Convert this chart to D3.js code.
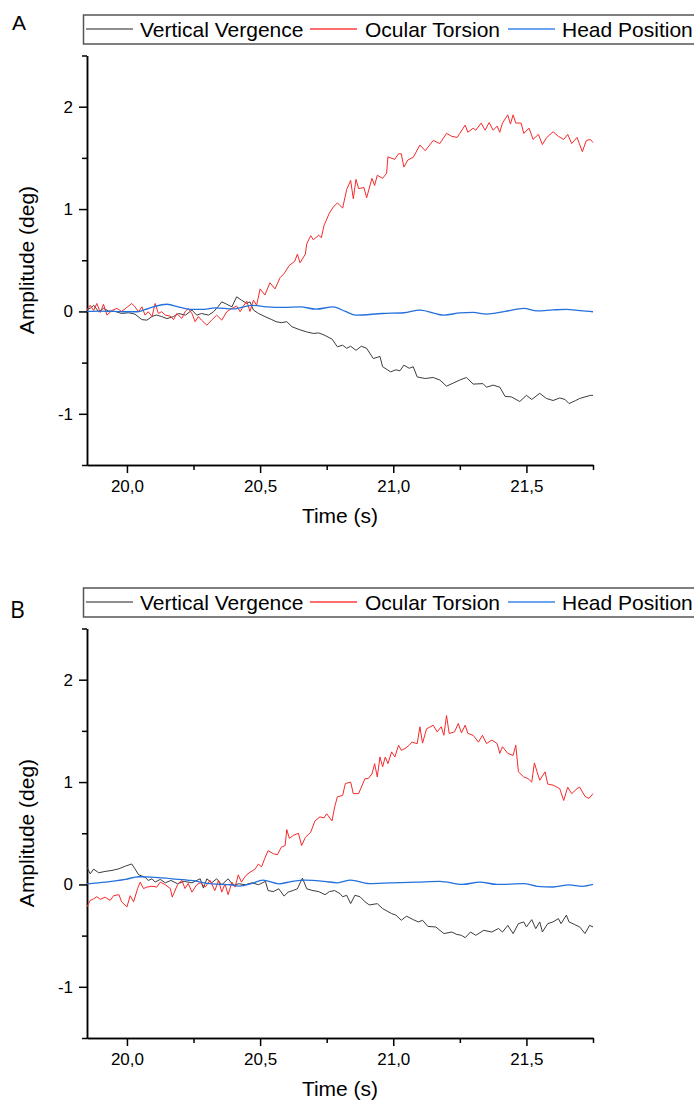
<!DOCTYPE html>
<meta charset="utf-8">
<html>

<head>
  <script src="https://cdnjs.cloudflare.com/ajax/libs/d3/7.8.5/d3.min.js"></script>

  <style>
    body {
      margin: 0;
      background-color: white;
    }

    svg text {
      font-family: 'Liberation Sans', Arial, sans-serif;
      fill: black;
    }

    .axis path,
    .axis line {
      stroke: black;
      stroke-width: 1.5;
    }

    .axis text {
      font-size: 17px;
    }

    .title {
      font-size: 21px;
    }

    .legend text {
      font-size: 21px;
    }
  </style>
</head>

<body>
  <script>
    //Tick values
    var xMajor = [20.0, 20.5, 21.0, 21.5];
    var xMinor = [20.25, 20.75, 21.25, 21.75];
    var yMajor = [-1, 0, 1, 2];
    var yMinor = [-1.5, -0.5, 0.5, 1.5, 2.5];
    var seriesNames = ['Vertical Vergence', 'Ocular Torsion', 'Head Position'];
    var panelLabels = ['A', 'B'];

    //Panel A, [time (s), amplitude (deg)]
    var vergenceA = [
      [19.85, 0.02], [19.862, 0.03], [19.875, 0.06], [19.894, -0.003], [19.912, 0.03], [19.93, 0.005],
      [19.956, 0.0], [19.98, -0.02], [20.006, -0.013], [20.03, -0.026], [20.056, -0.08], [20.075, -0.085],
      [20.094, -0.05], [20.11, -0.035], [20.13, -0.05], [20.15, -0.07], [20.175, -0.05], [20.194, -0.02],
      [20.22, -0.036], [20.244, 0.013], [20.262, -0.036], [20.28, -0.02], [20.306, -0.036], [20.325, -0.003],
      [20.344, 0.052], [20.356, 0.094], [20.375, 0.07], [20.394, 0.045], [20.412, 0.143], [20.43, 0.11],
      [20.45, 0.078], [20.462, 0.094], [20.475, 0.013], [20.494, -0.02], [20.518, -0.05], [20.544, -0.08],
      [20.56, -0.1], [20.58, -0.11], [20.6, -0.1], [20.62, -0.15], [20.65, -0.18], [20.675, -0.2],
      [20.7, -0.215], [20.72, -0.21], [20.74, -0.23], [20.77, -0.27], [20.79, -0.345], [20.81, -0.33],
      [20.825, -0.36], [20.84, -0.34], [20.86, -0.38], [20.88, -0.34], [20.9, -0.36], [20.925, -0.46],
      [20.95, -0.44], [20.96, -0.54], [20.99, -0.59], [21.01, -0.57], [21.025, -0.58], [21.04, -0.525],
      [21.06, -0.555], [21.075, -0.54], [21.09, -0.64], [21.12, -0.655], [21.15, -0.645], [21.175, -0.67],
      [21.2, -0.73], [21.225, -0.7], [21.25, -0.67], [21.275, -0.645], [21.3, -0.71], [21.337, -0.705],
      [21.35, -0.74], [21.375, -0.72], [21.4, -0.74], [21.42, -0.83], [21.444, -0.835], [21.475, -0.88],
      [21.5, -0.82], [21.52, -0.86], [21.55, -0.8], [21.575, -0.85], [21.6, -0.87], [21.625, -0.845],
      [21.645, -0.86], [21.66, -0.9], [21.685, -0.87], [21.7, -0.85], [21.74, -0.82], [21.75, -0.82]
    ];

    var torsionA = [
      [19.85, 0.013], [19.862, 0.06], [19.875, 0.01], [19.887, 0.078], [19.9, -0.01], [19.912, 0.07],
      [19.925, -0.036], [19.944, 0.01], [19.962, 0.03], [19.98, 0.0], [20.0, 0.04], [20.018, 0.078],
      [20.03, 0.045], [20.044, -0.003], [20.056, 0.045], [20.068, -0.036], [20.08, -0.003], [20.094, -0.05],
      [20.106, 0.078], [20.118, -0.02], [20.13, -0.003], [20.144, -0.036], [20.162, -0.045], [20.175, -0.08],
      [20.187, -0.02], [20.206, -0.068], [20.218, -0.003], [20.23, 0.03], [20.244, -0.02], [20.256, -0.1],
      [20.268, -0.05], [20.28, -0.085], [20.3, -0.134], [20.318, -0.085], [20.337, -0.036], [20.356, -0.085],
      [20.375, -0.003], [20.394, 0.03], [20.412, 0.052], [20.425, -0.003], [20.437, 0.052], [20.45, 0.1],
      [20.462, 0.0], [20.475, 0.11], [20.487, 0.06], [20.5, 0.22], [20.518, 0.16], [20.537, 0.28],
      [20.556, 0.22], [20.575, 0.33], [20.59, 0.37], [20.61, 0.45], [20.63, 0.49], [20.64, 0.56],
      [20.65, 0.475], [20.67, 0.56], [20.675, 0.66], [20.69, 0.74], [20.7, 0.7], [20.72, 0.745],
      [20.73, 0.72], [20.74, 0.84], [20.76, 0.96], [20.775, 1.02], [20.79, 1.06], [20.81, 1.01],
      [20.825, 1.19], [20.84, 1.28], [20.85, 1.1], [20.86, 1.29], [20.87, 1.2], [20.89, 1.21],
      [20.9, 1.11], [20.92, 1.3], [20.93, 1.23], [20.94, 1.33], [20.96, 1.3], [20.975, 1.35],
      [20.98, 1.51], [21.005, 1.485], [21.02, 1.54], [21.03, 1.54], [21.04, 1.41], [21.055, 1.48],
      [21.075, 1.505], [21.1, 1.625], [21.12, 1.57], [21.15, 1.67], [21.175, 1.64], [21.2, 1.74],
      [21.22, 1.71], [21.24, 1.7], [21.25, 1.74], [21.27, 1.82], [21.28, 1.75], [21.3, 1.79],
      [21.31, 1.77], [21.33, 1.84], [21.345, 1.77], [21.36, 1.845], [21.375, 1.77], [21.39, 1.81],
      [21.4, 1.75], [21.41, 1.84], [21.43, 1.92], [21.44, 1.83], [21.45, 1.92], [21.46, 1.84],
      [21.48, 1.84], [21.49, 1.74], [21.51, 1.79], [21.525, 1.68], [21.545, 1.73], [21.56, 1.63],
      [21.575, 1.695], [21.6, 1.755], [21.62, 1.71], [21.64, 1.68], [21.655, 1.73], [21.67, 1.64],
      [21.69, 1.7], [21.71, 1.56], [21.725, 1.67], [21.74, 1.68], [21.75, 1.65]
    ];

    var headA = [
      [19.85, 0.0], [19.9, 0.003], [19.95, 0.0], [20.0, -0.003], [20.04, -0.003], [20.07, 0.02],
      [20.1, 0.045], [20.15, 0.07], [20.2, 0.04], [20.24, 0.02], [20.29, 0.02], [20.33, 0.035],
      [20.4, 0.025], [20.47, 0.06], [20.525, 0.045], [20.59, 0.04], [20.65, 0.045], [20.71, 0.022],
      [20.775, 0.045], [20.82, 0.0], [20.86, -0.036], [20.96, -0.02], [21.04, -0.013], [21.1, 0.013],
      [21.19, -0.036], [21.25, -0.015], [21.3, -0.01], [21.35, -0.026], [21.42, 0.0], [21.49, 0.03],
      [21.54, 0.006], [21.6, 0.015], [21.65, 0.02], [21.7, 0.008], [21.75, -0.003]
    ];

    //Panel B, [time (s), amplitude (deg)]
    var vergenceB = [
      [19.85, 0.17], [19.862, 0.104], [19.875, 0.15], [19.894, 0.114], [19.918, 0.127], [19.944, 0.137],
      [19.97, 0.153], [19.994, 0.179], [20.018, 0.2], [20.03, 0.153], [20.044, 0.094], [20.068, 0.07],
      [20.08, 0.039], [20.094, 0.055], [20.106, 0.023], [20.125, 0.049], [20.144, 0.016], [20.165, 0.039],
      [20.19, 0.007], [20.215, 0.03], [20.244, 0.016], [20.275, 0.055], [20.287, -0.036], [20.3, 0.055],
      [20.318, 0.016], [20.337, 0.055], [20.356, -0.003], [20.38, 0.055], [20.4, -0.01], [20.42, 0.007],
      [20.444, -0.003], [20.47, 0.016], [20.494, -0.003], [20.52, 0.03], [20.53, -0.06], [20.55, -0.07],
      [20.57, -0.042], [20.59, -0.114], [20.605, -0.075], [20.625, -0.058], [20.64, -0.042], [20.659, 0.062],
      [20.675, -0.042], [20.695, -0.058], [20.72, -0.07], [20.744, -0.1], [20.76, -0.07], [20.78, -0.06],
      [20.8, -0.09], [20.81, -0.12], [20.825, -0.106], [20.84, -0.187], [20.856, -0.106], [20.875, -0.12],
      [20.894, -0.17], [20.91, -0.2], [20.94, -0.188], [20.96, -0.236], [20.994, -0.285], [21.01, -0.3],
      [21.03, -0.35], [21.05, -0.31], [21.075, -0.344], [21.094, -0.366], [21.11, -0.35], [21.13, -0.41],
      [21.16, -0.416], [21.19, -0.48], [21.22, -0.465], [21.237, -0.487], [21.256, -0.497], [21.27, -0.52],
      [21.29, -0.465], [21.31, -0.497], [21.34, -0.448], [21.37, -0.465], [21.395, -0.43], [21.41, -0.465],
      [21.43, -0.4], [21.45, -0.48], [21.47, -0.383], [21.49, -0.366], [21.5, -0.415], [21.52, -0.344],
      [21.535, -0.432], [21.55, -0.366], [21.56, -0.464], [21.58, -0.383], [21.6, -0.366], [21.62, -0.334],
      [21.63, -0.383], [21.65, -0.3], [21.66, -0.366], [21.68, -0.39], [21.7, -0.415], [21.72, -0.48],
      [21.737, -0.4], [21.75, -0.415]
    ];

    var torsionB = [
      [19.85, -0.22], [19.862, -0.156], [19.875, -0.14], [19.887, -0.12], [19.9, -0.145], [19.918, -0.124],
      [19.937, -0.156], [19.95, -0.11], [19.97, -0.1], [19.98, -0.17], [20.0, -0.22], [20.012, -0.11],
      [20.025, -0.17], [20.04, -0.04], [20.05, 0.023], [20.062, -0.04], [20.075, -0.026], [20.094, -0.017],
      [20.112, -0.026], [20.125, 0.023], [20.144, -0.003], [20.163, -0.04], [20.17, -0.124], [20.19, -0.003],
      [20.206, 0.04], [20.218, -0.04], [20.23, 0.01], [20.244, -0.075], [20.262, -0.003], [20.275, 0.016],
      [20.294, -0.026], [20.312, 0.04], [20.33, -0.06], [20.344, 0.04], [20.356, -0.075], [20.368, 0.005],
      [20.38, -0.1], [20.394, 0.023], [20.406, -0.026], [20.418, 0.094], [20.43, 0.023], [20.444, 0.08],
      [20.462, 0.12], [20.48, 0.146], [20.494, 0.2], [20.505, 0.17], [20.518, 0.257], [20.53, 0.33],
      [20.55, 0.3], [20.565, 0.29], [20.58, 0.365], [20.594, 0.38], [20.6, 0.536], [20.61, 0.45],
      [20.625, 0.48], [20.644, 0.5], [20.656, 0.38], [20.67, 0.46], [20.69, 0.51], [20.706, 0.62],
      [20.725, 0.66], [20.74, 0.65], [20.75, 0.69], [20.77, 0.62], [20.78, 0.757], [20.79, 0.855],
      [20.81, 0.87], [20.82, 0.985], [20.84, 1.0], [20.85, 0.887], [20.87, 0.887], [20.88, 0.95],
      [20.894, 1.034], [20.906, 1.034], [20.92, 1.08], [20.93, 1.18], [20.94, 1.05], [20.95, 1.245],
      [20.96, 1.15], [20.97, 1.245], [20.98, 1.18], [20.994, 1.295], [21.006, 1.245], [21.02, 1.36],
      [21.03, 1.31], [21.044, 1.327], [21.06, 1.36], [21.07, 1.39], [21.09, 1.375], [21.1, 1.54],
      [21.11, 1.38], [21.125, 1.52], [21.15, 1.555], [21.165, 1.49], [21.18, 1.54], [21.19, 1.457],
      [21.2, 1.65], [21.21, 1.475], [21.23, 1.49], [21.244, 1.572], [21.256, 1.48], [21.27, 1.555],
      [21.28, 1.475], [21.3, 1.457], [21.32, 1.39], [21.335, 1.457], [21.35, 1.376], [21.37, 1.41],
      [21.39, 1.376], [21.4, 1.28], [21.41, 1.345], [21.43, 1.28], [21.45, 1.26], [21.46, 1.36],
      [21.47, 1.1], [21.49, 1.05], [21.506, 1.034], [21.52, 1.0], [21.53, 1.187], [21.54, 1.1],
      [21.55, 1.018], [21.57, 1.1], [21.58, 0.98], [21.6, 0.97], [21.625, 0.936], [21.64, 0.82],
      [21.655, 0.95], [21.67, 0.887], [21.69, 0.936], [21.7, 0.95], [21.72, 0.86], [21.735, 0.84],
      [21.75, 0.887]
    ];

    var headB = [
      [19.85, 0.006], [19.92, 0.023], [19.994, 0.049], [20.044, 0.075], [20.094, 0.072], [20.17, 0.055],
      [20.24, 0.039], [20.32, 0.006], [20.39, -0.003], [20.42, -0.016], [20.47, 0.01], [20.51, 0.042],
      [20.57, 0.006], [20.62, 0.03], [20.67, 0.042], [20.74, 0.03], [20.79, 0.016], [20.84, 0.042],
      [20.91, 0.008], [20.99, 0.015], [21.09, 0.023], [21.175, 0.03], [21.26, 0.0], [21.325, 0.023],
      [21.39, 0.0], [21.49, 0.008], [21.54, -0.018], [21.6, -0.025], [21.66, -0.005], [21.71, -0.018],
      [21.75, 0.0]
    ];

    var colors = ['#3c3c3c', '#f52a2a', '#2470dd'];
    var legendColors = ['#6a6a6a', '#ff3c3c', '#3c86ee'];

    //Container
    var svg = d3.select('body')
      .append('svg')
      .attr('width', 694)
      .attr('height', 1100);

    //Comma as decimal mark
    var fmt = d3.formatLocale({ decimal: ',', thousands: '.', grouping: [3], currency: ['', ''] }).format('.1f');

    //Scales shared by both panels
    var x = d3.scaleLinear()
      .domain([19.85, 21.75])
      .range([87, 593]);

    function drawPanel(off, label, series) {
      var g = svg.append('g')
        .attr('transform', `translate(0, ${off})`);

      var y = d3.scaleLinear()
        .domain([-1.5, 2.5])
        .range([465, 55.5]);

      //Minor ticks
      g.append('g')
        .attr('class', 'axis')
        .attr('transform', 'translate(0, 465)')
        .call(d3.axisBottom(x).tickValues(xMinor).tickSize(5).tickSizeOuter(0).tickFormat(''));

      g.append('g')
        .attr('class', 'axis')
        .attr('transform', 'translate(87, 0)')
        .call(d3.axisLeft(y).tickValues(yMinor).tickSize(5).tickSizeOuter(0).tickFormat(''));

      //X axis
      g.append('g')
        .attr('class', 'axis')
        .attr('transform', 'translate(0, 465)')
        .call(d3.axisBottom(x).tickValues(xMajor).tickSize(8).tickSizeOuter(0).tickPadding(7).tickFormat(fmt));

      //Y axis, plain hyphen for negatives
      g.append('g')
        .attr('class', 'axis')
        .attr('transform', 'translate(87, 0)')
        .call(d3.axisLeft(y).tickValues(yMajor).tickSize(8).tickSizeOuter(0).tickPadding(6).tickFormat(d => String(d)));

      //Lines
      var line = d3.line()
        .x(d => x(d[0]))
        .y(d => y(d[1]));

      var smooth = d3.line()
        .curve(d3.curveMonotoneX)
        .x(d => x(d[0]))
        .y(d => y(d[1]));

      series.forEach(function (s, i) {
        g.append('path')
          .datum(s)
          .attr('fill', 'none')
          .attr('stroke', colors[i])
          .attr('stroke-width', i == 2 ? 1.3 : 1)
          .attr('stroke-linejoin', 'round')
          .attr('d', i == 2 ? smooth : line);
      });

      //Axis titles
      g.append('text')
        .attr('class', 'title')
        .attr('x', 340)
        .attr('y', 523)
        .attr('text-anchor', 'middle')
        .text('Time (s)');

      g.append('text')
        .attr('class', 'title')
        .attr('transform', 'translate(33.5, 260) rotate(-90)')
        .attr('text-anchor', 'middle')
        .text('Amplitude (deg)');

      //Legend
      var lg = g.append('g').attr('class', 'legend');
      lg.append('rect')
        .attr('x', 83.5)
        .attr('y', 15)
        .attr('width', 640)
        .attr('height', 29)
        .attr('fill', 'white')
        .attr('stroke', '#555')
        .attr('stroke-width', 1.5);

      var lineX = [86, 310, 508];
      var textX = [140, 365, 562];
      seriesNames.forEach(function (n, i) {
        lg.append('path')
          .attr('d', `M${lineX[i]},29H${lineX[i] + 47}`)
          .style('stroke', legendColors[i])
          .style('stroke-width', 1.6)
          .style('fill', 'none');
        lg.append('text')
          .attr('x', textX[i])
          .attr('y', 36.5)
          .text(n);
      });

      //Panel letter
      g.append('text')
        .attr('x', label == 'A' ? 12 : 10)
        .attr('y', label == 'A' ? 30 : 45)
        .style('font-family', label == 'A' ? "'Liberation Sans', Arial, sans-serif" : "'Open Sans', sans-serif")
        .style('font-size', label == 'A' ? '21px' : '23px')
        .text(label);
    }

    drawPanel(0, panelLabels[0], [vergenceA, torsionA, headA]);
    drawPanel(573, panelLabels[1], [vergenceB, torsionB, headB]);
  </script>
</body>

</html>
